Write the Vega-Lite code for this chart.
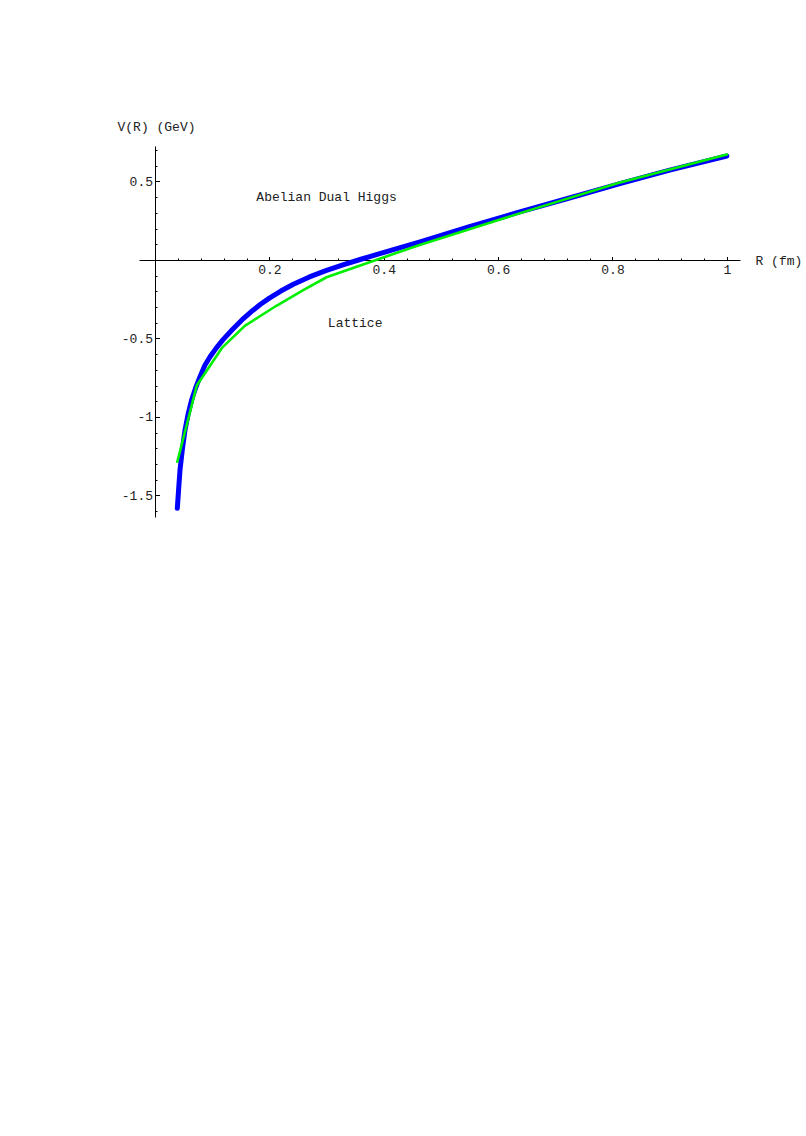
{
  "$schema": "https://vega.github.io/schema/vega-lite/v6.json",
  "width": 601,
  "height": 371,
  "autosize": {"type": "none"},
  "padding": {"left": 139, "top": 146, "right": 66, "bottom": 619},
  "background": "white",
  "config": {
    "view": {"stroke": null},
    "axis": {
      "grid": false,
      "domainColor": "black",
      "domainWidth": 1,
      "tickColor": "black",
      "tickWidth": 1,
      "labelFont": "Liberation Mono",
      "labelFontSize": 13,
      "labelColor": "#222",
      "titleFont": "Liberation Mono",
      "titleFontSize": 13,
      "titleFontWeight": "normal",
      "titleColor": "#222"
    }
  },
  "datasets": {
    "higgs": [
      {"R": 0.039, "V": -1.582},
      {"R": 0.0415, "V": -1.45},
      {"R": 0.0437, "V": -1.338},
      {"R": 0.048, "V": -1.2},
      {"R": 0.0525, "V": -1.083},
      {"R": 0.058, "V": -0.98},
      {"R": 0.064, "V": -0.892},
      {"R": 0.071, "V": -0.815},
      {"R": 0.0787, "V": -0.743},
      {"R": 0.087, "V": -0.672},
      {"R": 0.096, "V": -0.618},
      {"R": 0.107, "V": -0.561},
      {"R": 0.119, "V": -0.507},
      {"R": 0.135, "V": -0.444},
      {"R": 0.152, "V": -0.382},
      {"R": 0.168, "V": -0.33},
      {"R": 0.184, "V": -0.284},
      {"R": 0.2, "V": -0.243},
      {"R": 0.22, "V": -0.198},
      {"R": 0.242, "V": -0.155},
      {"R": 0.27, "V": -0.108},
      {"R": 0.3, "V": -0.066},
      {"R": 0.33, "V": -0.029},
      {"R": 0.3586, "V": 0.003},
      {"R": 0.39, "V": 0.037},
      {"R": 0.417, "V": 0.066},
      {"R": 0.4635, "V": 0.115},
      {"R": 0.55, "V": 0.212},
      {"R": 0.638, "V": 0.306},
      {"R": 0.72, "V": 0.39},
      {"R": 0.813, "V": 0.486},
      {"R": 0.9, "V": 0.572},
      {"R": 1.0, "V": 0.662}
    ],
    "lattice": [
      {"R": 0.039, "V": -1.285},
      {"R": 0.073, "V": -0.8},
      {"R": 0.117, "V": -0.56},
      {"R": 0.157, "V": -0.42},
      {"R": 0.213, "V": -0.29},
      {"R": 0.26, "V": -0.19},
      {"R": 0.3, "V": -0.11},
      {"R": 0.36, "V": -0.033},
      {"R": 0.46, "V": 0.092},
      {"R": 0.64, "V": 0.3},
      {"R": 0.81, "V": 0.49},
      {"R": 1.0, "V": 0.672}
    ],
    "labels": [
      {"R": 0.3, "V": 0.399, "text": "Abelian Dual Higgs"},
      {"R": 0.35, "V": -0.403, "text": "Lattice"}
    ]
  },
  "layer": [
    {
      "data": {"name": "higgs"},
      "mark": {"type": "line", "color": "#0000ff", "strokeWidth": 5, "strokeCap": "round", "strokeJoin": "round", "clip": false},
      "encoding": {
        "x": {
          "field": "R", "type": "quantitative",
          "scale": {"domain": [-0.028, 1.023], "nice": false, "zero": false},
          "axis": {
            "orient": "bottom", "offset": -257,
            "values": [0.2, 0.4, 0.6, 0.8, 1],
            "labelExpr": "'' + datum.value",
            "tickSize": -3.5, "labelPadding": 7,
            "title": "R (fm)", "titleX": 616, "titleY": 0,
            "titleAlign": "left", "titleBaseline": "middle", "titleAnchor": null
          }
        },
        "y": {
          "field": "V", "type": "quantitative",
          "scale": {"domain": [-1.637, 0.726], "nice": false, "zero": false},
          "axis": {
            "orient": "left", "offset": -16,
            "values": [-1.5, -1, -0.5, 0.5],
            "labelExpr": "'' + datum.value",
            "tickSize": -4.5, "labelPadding": 7,
            "title": "V(R) (GeV)", "titleX": -38, "titleY": -20,
            "titleAngle": 0, "titleAlign": "left", "titleBaseline": "middle", "titleAnchor": null
          }
        }
      }
    },
    {
      "data": {"name": "lattice"},
      "mark": {"type": "line", "color": "#00ee00", "strokeWidth": 2.6, "strokeCap": "round", "strokeJoin": "round", "clip": false},
      "encoding": {
        "x": {
          "field": "R", "type": "quantitative",
          "axis": {
            "orient": "bottom", "offset": -257,
            "values": [0.04, 0.08, 0.12, 0.16, 0.24, 0.28, 0.32, 0.36, 0.44, 0.48, 0.52, 0.56, 0.64, 0.68, 0.72, 0.76, 0.84, 0.88, 0.92, 0.96],
            "labels": false, "domain": false,
            "tickSize": -2, "title": null
          }
        },
        "y": {
          "field": "V", "type": "quantitative",
          "axis": {
            "orient": "left", "offset": -16,
            "values": [-1.6, -1.4, -1.3, -1.2, -1.1, -0.9, -0.8, -0.7, -0.6, -0.4, -0.3, -0.2, -0.1, 0.1, 0.2, 0.3, 0.4, 0.6, 0.7],
            "labels": false, "domain": false,
            "tickSize": -2, "title": null
          }
        }
      }
    },
    {
      "data": {"name": "labels"},
      "mark": {"type": "text", "font": "Liberation Mono", "fontSize": 13, "color": "#222", "align": "center", "baseline": "middle"},
      "encoding": {
        "x": {"field": "R", "type": "quantitative", "axis": null},
        "y": {"field": "V", "type": "quantitative", "axis": null},
        "text": {"field": "text", "type": "nominal"}
      }
    }
  ],
  "resolve": {"axis": {"x": "independent", "y": "independent"}}
}
